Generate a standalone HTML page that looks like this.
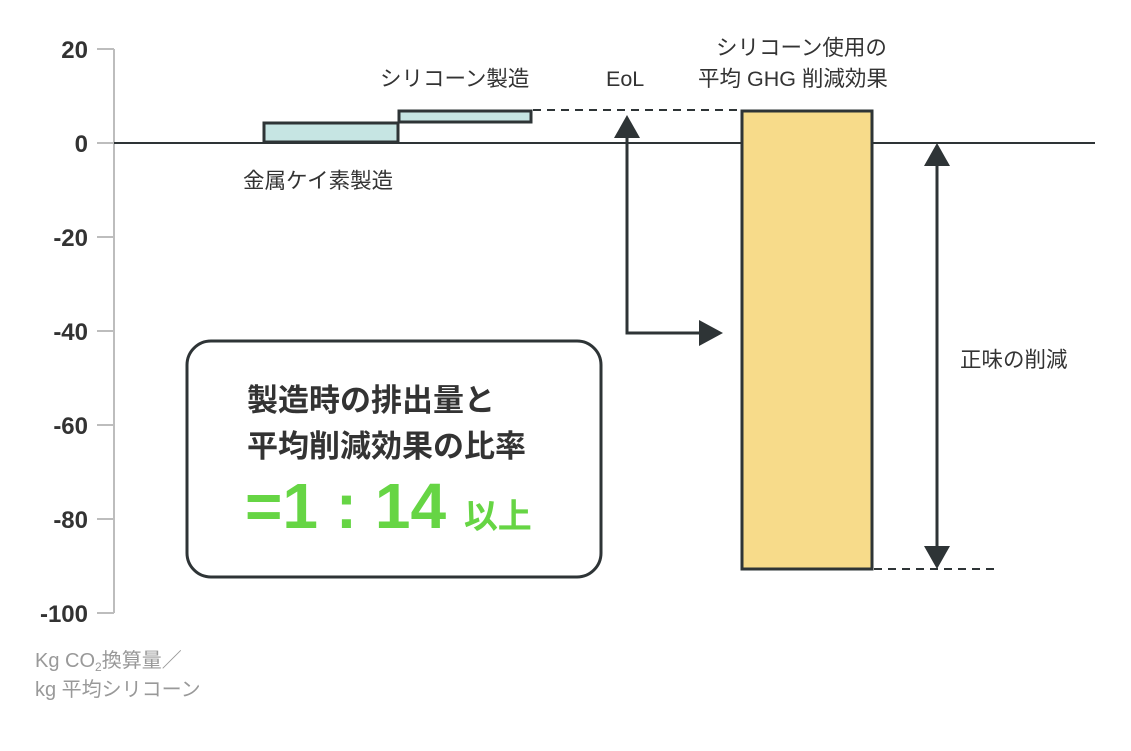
<!DOCTYPE html>
<html><head><meta charset="utf-8"><style>
html,body{margin:0;padding:0;background:#fff;}
svg{display:block}
text{font-family:"Liberation Sans","Noto Sans CJK JP",sans-serif;fill:#333}
</style></head><body>
<svg width="1131" height="751" viewBox="0 0 1131 751" xmlns="http://www.w3.org/2000/svg">
<line x1="114" y1="49" x2="114" y2="613" stroke="#bdbdbd" stroke-width="2"/>
<g stroke="#bdbdbd" stroke-width="2">
<line x1="97" y1="49" x2="114" y2="49"/><line x1="97" y1="143" x2="114" y2="143"/>
<line x1="97" y1="237" x2="114" y2="237"/><line x1="97" y1="331" x2="114" y2="331"/>
<line x1="97" y1="425" x2="114" y2="425"/><line x1="97" y1="519" x2="114" y2="519"/>
<line x1="97" y1="613" x2="114" y2="613"/>
</g>
<g font-size="24" font-weight="bold" text-anchor="end">
<text x="88" y="58">20</text><text x="88" y="152">0</text><text x="88" y="246">-20</text>
<text x="88" y="340">-40</text><text x="88" y="434">-60</text><text x="88" y="528">-80</text>
<text x="88" y="622">-100</text>
</g>
<text x="35" y="667" font-size="20" style="fill:#999">Kg CO<tspan font-size="12" dy="4">2</tspan><tspan dy="-4">換算量／</tspan></text>
<text x="35" y="696" font-size="20" style="fill:#999">kg 平均シリコーン</text>
<line x1="114" y1="143" x2="1095" y2="143" stroke="#2e3436" stroke-width="2"/>
<rect x="264" y="123" width="134" height="19" fill="#c6e5e3" stroke="#2e3436" stroke-width="3"/>
<rect x="399" y="111" width="132" height="11" fill="#c6e5e3" stroke="#2e3436" stroke-width="3"/>
<line x1="533" y1="110" x2="741" y2="110" stroke="#2e3436" stroke-width="2" stroke-dasharray="8,6"/>
<rect x="742" y="111" width="130" height="458" fill="#f7db8a" stroke="#2e3436" stroke-width="3"/>
<line x1="874" y1="569" x2="1000" y2="569" stroke="#2e3436" stroke-width="2" stroke-dasharray="8,6"/>
<polyline points="627,136 627,333 700,333" fill="none" stroke="#2e3436" stroke-width="3"/>
<polygon points="627,115 614,138 640,138" fill="#2e3436"/>
<polygon points="723,333 699,320 699,346" fill="#2e3436"/>
<line x1="937" y1="160" x2="937" y2="550" stroke="#2e3436" stroke-width="3"/>
<polygon points="937,143 924,166 950,166" fill="#2e3436"/>
<polygon points="937,569 924,546 950,546" fill="#2e3436"/>
<g font-size="21.5">
<text x="380" y="86">シリコーン製造</text>
<text x="606" y="86">EoL</text>
<text x="716" y="55">シリコーン使用の</text>
<text x="698" y="86">平均 GHG 削減効果</text>
<text x="243" y="188">金属ケイ素製造</text>
<text x="960" y="367">正味の削減</text>
</g>
<rect x="187" y="341" width="414" height="236" rx="24" fill="#fff" stroke="#2e3436" stroke-width="3"/>
<text x="247" y="411" font-size="31" font-weight="bold">製造時の排出量と</text>
<text x="247" y="457" font-size="31" font-weight="bold">平均削減効果の比率</text>
<text x="245" y="528" font-size="64" font-weight="bold" style="fill:#66d544">=1 : 14 <tspan font-size="34">以上</tspan></text>
</svg>
</body></html>
